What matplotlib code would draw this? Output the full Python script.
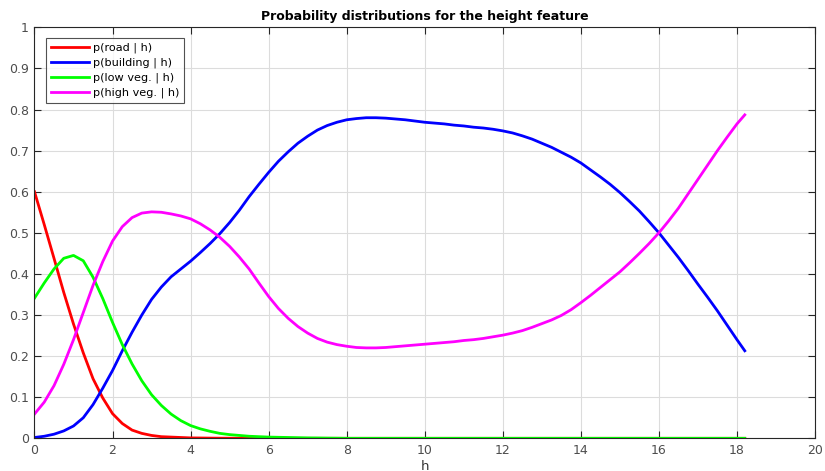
import numpy as np
import matplotlib
matplotlib.use('Agg')
import matplotlib.pyplot as plt

plt.rcParams['font.family'] = ['DejaVu Sans']

# height values (common grid for all curves)
h = [0, 0.25, 0.5, 0.75, 1.0, 1.25, 1.5, 1.75, 2.0, 2.25, 2.5, 2.75, 3.0, 3.25, 3.5, 3.75,
     4.0, 4.25, 4.5, 4.75, 5.0, 5.25, 5.5, 5.75, 6.0, 6.25, 6.5, 6.75, 7.0, 7.25, 7.5, 7.75,
     8.0, 8.25, 8.5, 8.75, 9.0, 9.25, 9.5, 9.75, 10.0, 10.25, 10.5, 10.75, 11.0, 11.25, 11.5, 11.75,
     12.0, 12.25, 12.5, 12.75, 13.0, 13.25, 13.5, 13.75, 14.0, 14.25, 14.5, 14.75, 15.0, 15.25, 15.5, 15.75,
     16.0, 16.25, 16.5, 16.75, 17.0, 17.25, 17.5, 17.75, 18.0, 18.2]

p_road = [0.600, 0.520, 0.438, 0.355, 0.278, 0.208, 0.145, 0.098, 0.060, 0.036, 0.020, 0.012,
          0.007, 0.004, 0.003, 0.002, 0.001, 0.0008, 0.0005, 0.0003, 0.0002, 0.0001] + [0] * 52

p_building = [0.002, 0.005, 0.010, 0.018, 0.030, 0.050, 0.082, 0.122, 0.165, 0.213, 0.258, 0.300,
              0.338, 0.368, 0.393, 0.412, 0.431,
              0.452, 0.474, 0.498, 0.525, 0.555, 0.588, 0.618, 0.647, 0.674, 0.697, 0.718, 0.735,
              0.750, 0.761, 0.769, 0.775,
              0.778, 0.780, 0.780, 0.779, 0.777, 0.775, 0.772, 0.769, 0.767, 0.765, 0.762, 0.760,
              0.757, 0.755, 0.752, 0.748,
              0.743, 0.736, 0.728, 0.718, 0.708, 0.696, 0.684, 0.670, 0.653, 0.636, 0.618, 0.598,
              0.576, 0.553, 0.527, 0.500,
              0.470, 0.440, 0.408, 0.375, 0.343, 0.310, 0.275, 0.240,
              0.213]

p_lowveg = [0.341, 0.378, 0.412, 0.438, 0.445, 0.432, 0.392, 0.340, 0.282, 0.228, 0.181, 0.140,
            0.106, 0.080, 0.059, 0.043, 0.031, 0.023, 0.017, 0.012, 0.009, 0.007, 0.005, 0.004,
            0.003, 0.0025, 0.002, 0.0015, 0.001, 0.0008, 0.0005, 0.0003] + [0] * 42

p_highveg = [0.059, 0.088, 0.128, 0.180, 0.240, 0.306, 0.372, 0.430, 0.480, 0.515, 0.537, 0.548,
             0.551, 0.550, 0.546, 0.541, 0.534,
             0.522, 0.507, 0.489, 0.467, 0.441, 0.412, 0.378, 0.345, 0.316, 0.292, 0.272, 0.256,
             0.243, 0.234, 0.228, 0.224,
             0.221, 0.220, 0.220, 0.221, 0.223, 0.225, 0.227, 0.229, 0.231, 0.233, 0.235, 0.238,
             0.240, 0.243, 0.247, 0.251,
             0.256, 0.262, 0.270, 0.279, 0.288, 0.299, 0.313, 0.330, 0.348, 0.367, 0.386, 0.405,
             0.427, 0.450, 0.474, 0.500,
             0.529, 0.560, 0.595, 0.630, 0.665, 0.700, 0.733, 0.765,
             0.787]

labels = ['p(road | h)', 'p(building | h)', 'p(low veg. | h)', 'p(high veg. | h)']
colors = ['#ff0000', '#0000ff', '#00ff00', '#ff00ff']

fig = plt.figure(figsize=(8.25, 4.71), dpi=100)
ax = fig.add_axes([0.0418, 0.0694, 0.9461, 0.8726])

for ys, lab, c in zip([p_road, p_building, p_lowveg, p_highveg], labels, colors):
    ax.plot(h, ys, color=c, lw=2.0, label=lab, solid_joinstyle='round')

yt = np.round(np.arange(0, 1.01, 0.1), 1)
ax.set_xlim(0, 20)
ax.set_ylim(0, 1)
ax.set_xticks(np.arange(0, 21, 2))
ax.set_yticks(yt)
ax.set_yticklabels(['%g' % v for v in yt])
ax.grid(True, color='#dcdcdc', lw=0.8)
ax.set_axisbelow(True)
ax.tick_params(direction='in', length=5, width=0.8, top=True, right=True,
               labelsize=9, colors='#262626', labelcolor='#4d4d4d', pad=4)
for s in ax.spines.values():
    s.set_color('#262626')
    s.set_linewidth(0.8)

ax.set_xlabel('h', fontsize=9.5, color='#333333', labelpad=2)
ax.set_title('Probability distributions for the height feature', fontsize=9,
             fontweight='bold', pad=5)

leg = ax.legend(loc='upper left', bbox_to_anchor=(0.0147, 0.975), fontsize=8.1,
                frameon=True, fancybox=False, edgecolor='#262626', handlelength=3.4,
                handletextpad=0.3, labelspacing=0.4, borderpad=0.45, borderaxespad=0)
leg.get_frame().set_linewidth(0.8)

fig.savefig('out.png', dpi=100)
